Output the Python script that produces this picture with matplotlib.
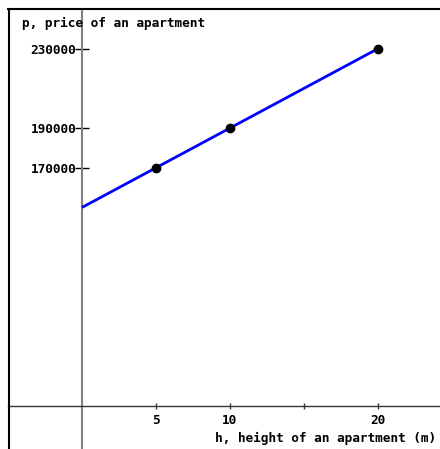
import numpy as np
import matplotlib.pyplot as plt
from matplotlib.lines import Line2D

# data
h_points = [5, 10, 20]
p_points = [170000, 190000, 230000]
h_line = [0, 20]
p_line = [150000, 230000]
x_ticks = [5, 10, 15, 20]
x_labels = ["5", "10", "", "20"]
y_ticks = [170000, 190000, 230000]
y_labels = ["170000", "190000", "230000"]

W, H = 440, 449
fig = plt.figure(figsize=(W / 100, H / 100), dpi=100)
ax = fig.add_axes([8 / W, 0, 432 / W, 1 - 9 / H])

font = dict(family="DejaVu Sans Mono", weight="bold", size=9.2)

ax.plot(h_line, p_line, color="#0000ff", lw=2, solid_capstyle="butt", zorder=3)
ax.plot(h_points, p_points, "o", color="black", ms=6, zorder=4)

ax.set_xlim(-5, 24.2)
ax.set_ylim(28300, 250000)

for s in ["right", "top"]:
    ax.spines[s].set_visible(False)
ax.spines["left"].set_position(("data", 0))
ax.spines["left"].set_color("#808080")
ax.spines["left"].set_linewidth(1.5)
ax.spines["bottom"].set_position(("data", 50000))
ax.spines["bottom"].set_color("#333333")
ax.spines["bottom"].set_linewidth(1)

ax.set_xticks(x_ticks)
ax.set_xticklabels(x_labels, **font)
ax.set_yticks(y_ticks)
ax.set_yticklabels(y_labels, **font)
ax.tick_params(axis="x", direction="inout", length=4, width=1, color="#333333", pad=4)
ax.tick_params(axis="y", direction="inout", length=10, width=1, color="black", pad=-1)

ax.text(0.033, 0.982, "p, price of an apartment", transform=ax.transAxes,
        ha="left", va="top", **font)
ax.text(0.99, 0.008, "h, height of an apartment (m)", transform=ax.transAxes,
        ha="right", va="bottom", **font)

# outer frame (left and top only)
fig.add_artist(Line2D([8.5 / W, 8.5 / W], [0, 1 - 9 / H], color="black", lw=1.5))
fig.add_artist(Line2D([8 / W, 1], [1 - 9 / H, 1 - 9 / H], color="black", lw=1.5))

fig.savefig("out.png", dpi=100)
